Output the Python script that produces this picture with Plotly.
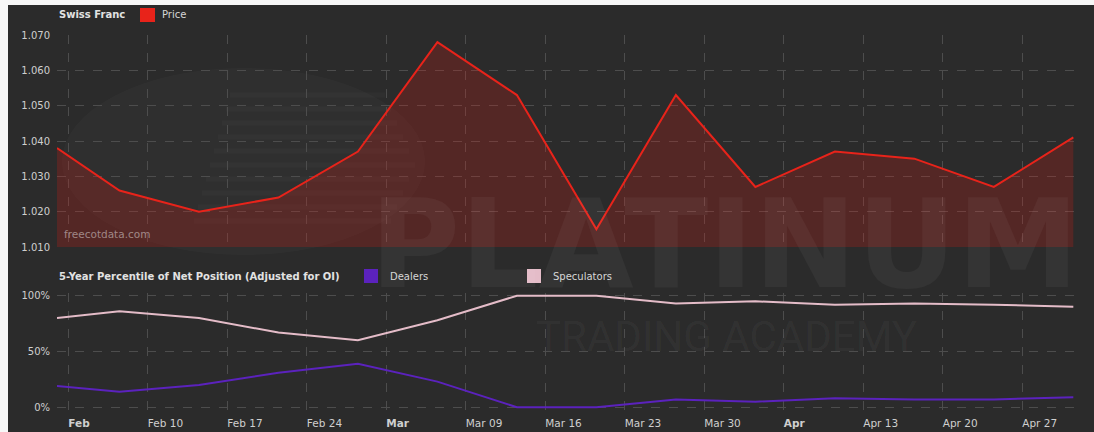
import plotly.graph_objects as go

# Weekly COT snapshot for the Swiss Franc
dates = [
    "2020-02-02 00:00", "2020-02-07 12:00", "2020-02-14 12:00", "2020-02-21 12:00",
    "2020-02-28 12:00", "2020-03-06 12:00", "2020-03-13 12:00", "2020-03-20 12:00",
    "2020-03-27 12:00", "2020-04-03 12:00", "2020-04-10 12:00", "2020-04-17 12:00",
    "2020-04-24 12:00", "2020-05-01 12:00",
]
price = [1.038, 1.026, 1.020, 1.024, 1.037, 1.068, 1.053, 1.015, 1.053, 1.027,
         1.037, 1.035, 1.027, 1.041]
dealers = [19, 14, 20, 31, 39, 23, 0, 0, 7, 5, 8, 7, 7, 9]
speculators = [80, 86, 80, 67, 60, 78, 100, 100, 93, 95, 92, 93, 92, 90]

tick_dates = ["2020-02-03", "2020-02-10", "2020-02-17", "2020-02-24", "2020-03-02",
              "2020-03-09", "2020-03-16", "2020-03-23", "2020-03-30", "2020-04-06",
              "2020-04-13", "2020-04-20", "2020-04-27"]
tick_labels = ["<b>Feb</b>", "Feb 10", "Feb 17", "Feb 24", "<b>Mar</b>", "Mar 09",
               "Mar 16", "Mar 23", "Mar 30", "<b>Apr</b>", "Apr 13", "Apr 20", "Apr 27"]
price_ticks = [1.010, 1.020, 1.030, 1.040, 1.050, 1.060, 1.070]
pct_ticks = [0, 50, 100]
pct_labels = ["0%", "50%", "100%"]

market = "Swiss Franc"
price_name = "Price"
panel_title = "5-Year Percentile of Net Position (Adjusted for OI)"
dealers_name = "Dealers"
spec_name = "Speculators"

RED = "#e8231a"
PURPLE = "#5b22bd"
PINK = "#e4bcc8"
BG = "#2b2b2b"
GRID = "#4d4d4d"
TXT = "#cfcfcf"
FONT = "DejaVu Sans"

W, H = 1094, 432
L, R = 57, 15
PW = W - L - R


def fx(x):
    return (x - L) / PW


def fy(y):
    return (H - y) / H


fig = go.Figure()

fig.add_trace(go.Scatter(
    x=dates, y=price, mode="lines", name=price_name,
    line=dict(color=RED, width=2), fill="tozeroy",
    fillcolor="rgba(205,32,22,0.26)", xaxis="x", yaxis="y",
))
fig.add_trace(go.Scatter(
    x=dates, y=speculators, mode="lines", name=spec_name,
    line=dict(color=PINK, width=2), xaxis="x2", yaxis="y2",
))
fig.add_trace(go.Scatter(
    x=dates, y=dealers, mode="lines", name=dealers_name,
    line=dict(color=PURPLE, width=2), xaxis="x2", yaxis="y2",
))

xcommon = dict(
    type="date", range=["2020-02-02", "2020-05-02"],
    tickvals=tick_dates, showgrid=True, gridcolor=GRID, griddash="dash",
    gridwidth=1, zeroline=False, showline=False, ticks="",
)

px_per_pct = (407.3 - 295.7) / 100.0
pad = 2
fig.update_layout(
    width=W, height=H,
    margin=dict(l=L, r=R, t=0, b=0, autoexpand=False),
    paper_bgcolor="#f7f7f7", plot_bgcolor="rgba(0,0,0,0)",
    showlegend=False,
    font=dict(family=FONT, size=10, color=TXT),
    xaxis=dict(**xcommon, anchor="y", domain=[0, 1], showticklabels=False,
               matches="x2"),
    xaxis2=dict(**xcommon, anchor="y2", domain=[0, 1], ticktext=tick_labels,
                ticklabelposition="outside right", ticklabelstandoff=6,
                tickfont=dict(size=10.5, color=TXT, family=FONT)),
    yaxis=dict(domain=[fy(247), fy(35)], range=[1.010, 1.070],
               tickvals=price_ticks, tickformat=".3f", showgrid=True,
               gridcolor=GRID, griddash="dash", zeroline=False, ticks="",
               ticklabelstandoff=6, tickfont=dict(size=10, color=TXT)),
    yaxis2=dict(domain=[fy(407.3 + pad * px_per_pct), fy(295.7 - pad * px_per_pct)],
                range=[-pad, 100 + pad], tickvals=pct_ticks, ticktext=pct_labels,
                showgrid=True, gridcolor=GRID, griddash="dash", zeroline=False,
                ticks="", ticklabelstandoff=6, tickfont=dict(size=10, color=TXT)),
)

shapes = [
    # dark card behind the whole chart
    dict(type="rect", xref="paper", yref="paper", x0=fx(8), x1=fx(W + 2),
         y0=fy(H + 2), y1=fy(5), fillcolor=BG, line=dict(width=0), layer="below"),
    # faint logo disc of the watermark
    dict(type="circle", xref="paper", yref="paper", x0=fx(62), x1=fx(425),
         y0=fy(255), y1=fy(68), fillcolor="rgba(255,255,255,0.025)",
         line=dict(width=0), layer="below"),
    # legend swatches
    dict(type="rect", xref="paper", yref="paper", x0=fx(140), x1=fx(155),
         y0=fy(22), y1=fy(8), fillcolor=RED, line=dict(width=0)),
    dict(type="rect", xref="paper", yref="paper", x0=fx(364), x1=fx(378),
         y0=fy(283), y1=fy(269), fillcolor=PURPLE, line=dict(width=0)),
    dict(type="rect", xref="paper", yref="paper", x0=fx(527), x1=fx(541),
         y0=fy(283), y1=fy(269), fillcolor=PINK, line=dict(width=0)),
]
# horizontal stripes of the watermark logo
for i, yy in enumerate(range(95, 235, 14)):
    shapes.append(dict(type="line", xref="paper", yref="paper",
                       x0=fx(230 - i * 4), x1=fx(415 - abs(i - 5) * 6),
                       y0=fy(yy), y1=fy(yy),
                       line=dict(color="rgba(255,255,255,0.025)", width=5),
                       layer="below"))
fig.update_layout(shapes=shapes)

ann = [
    dict(text="PLATINUM", x=fx(724), y=fy(244), font=dict(size=123, family=FONT,
         color="rgba(255,255,255,0.045)", weight="bold")),
    dict(text="TRADING ACADEMY", x=fx(726), y=fy(336),
         font=dict(size=42, family="Roboto", color="rgba(255,255,255,0.045)")),
    dict(text="freecotdata.com", x=fx(62), y=fy(234), xanchor="left",
         font=dict(size=10.5, color="rgba(255,255,255,0.45)")),
    dict(text="<b>" + market + "</b>", x=fx(57), y=fy(15), xanchor="left",
         font=dict(size=10, color="#e2e2e2")),
    dict(text=price_name, x=fx(160), y=fy(15), xanchor="left",
         font=dict(size=10, color="#d6d6d6")),
    dict(text="<b>" + panel_title + "</b>", x=fx(57), y=fy(276), xanchor="left",
         font=dict(size=10, color="#e2e2e2")),
    dict(text=dealers_name, x=fx(388), y=fy(276), xanchor="left",
         font=dict(size=10, color="#d6d6d6")),
    dict(text=spec_name, x=fx(551), y=fy(276), xanchor="left",
         font=dict(size=10, color="#d6d6d6")),
]
for a in ann:
    a.setdefault("xanchor", "center")
    a.update(xref="paper", yref="paper", yanchor="middle", showarrow=False)
fig.update_layout(annotations=ann)

fig.write_html("out.html")
